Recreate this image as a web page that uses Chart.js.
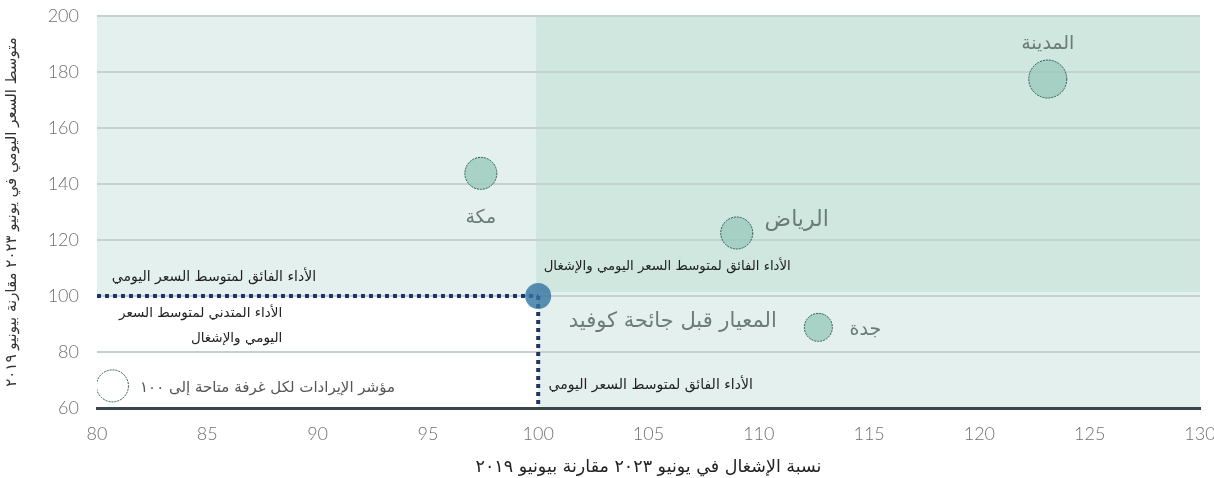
<!DOCTYPE html>
<html lang="ar">
<head>
<meta charset="utf-8">
<script src="https://cdn.jsdelivr.net/npm/chart.js@4.4.1/dist/chart.umd.min.js"></script>
<style>
  html, body { margin: 0; padding: 0; background: #fff; }
  #wrap { width: 1214px; height: 478px; position: relative; }
</style>
</head>
<body>
<div id="wrap"><canvas id="chart"></canvas></div>
<script>
// occupancy (x) and ADR (y), June 2023 indexed to June 2019 = 100
var cities = ['المدينة', 'مكة', 'الرياض', 'جدة'];
var occupancy = [123.1, 97.4, 109.0, 112.7];
var adr = [177.5, 143.8, 122.5, 88.8];
var bubbleSize = [19, 16, 16, 14];

var benchmarkX = 100;
var benchmarkY = 100;
var legendX = 80.7;
var legendY = 67.9;

var xMin = 80, xMax = 130, xStep = 5;
var yMin = 60, yMax = 200, yStep = 20;

var xTitle = 'نسبة الإشغال في يونيو ٢٠٢٣ مقارنة بيونيو ٢٠١٩';
var yTitle = 'متوسط السعر اليومي في يونيو ٢٠٢٣ مقارنة بيونيو ٢٠١٩';

var arabicFont = '"DejaVu Sans", sans-serif';
var numFont = 'Lato, "Open Sans", sans-serif';

// label offsets for each city bubble (px)
var cityLabelPos = [
  { dx: 0, dy: -35, size: 19 },
  { dx: 0, dy: 45, size: 19 },
  { dx: 60, dy: -13, size: 22 },
  { dx: 47, dy: 3, size: 19 }
];

// quadrant notes, anchored in data units
var notes = [
  { text: 'الأداء الفائق لمتوسط السعر اليومي', x: 85.3, y: 106.8, align: 'center', size: 14, color: '#222' },
  { text: 'الأداء المتدني لمتوسط السعر', x: 88.4, y: 93.9, align: 'right', size: 13.5, color: '#222' },
  { text: 'اليومي والإشغال', x: 88.4, y: 85.0, align: 'right', size: 13.5, color: '#222' },
  { text: 'الأداء الفائق لمتوسط السعر اليومي والإشغال', x: 105.85, y: 110.4, align: 'center', size: 13.3, color: '#222' },
  { text: 'الأداء الفائق لمتوسط السعر اليومي', x: 105.1, y: 68.2, align: 'center', size: 14, color: '#222' },
  { text: 'المعيار قبل جائحة كوفيد', x: 106.1, y: 90.7, align: 'center', size: 21, color: '#6b7c78' },
  { text: 'مؤشر الإيرادات لكل غرفة متاحة إلى ١٠٠', x: 81.95, y: 67.1, align: 'left', size: 15, color: '#555' }
];

var cityPoints = [];
for (var i = 0; i < cities.length; i++) {
  cityPoints.push({ x: occupancy[i], y: adr[i], r: bubbleSize[i] });
}

// shaded quadrants behind the grid
var quadrants = {
  id: 'quadrants',
  beforeDraw: function (chart) {
    var c = chart.ctx, a = chart.chartArea;
    var xs = chart.scales.x, ys = chart.scales.y;
    var px = xs.getPixelForValue(benchmarkX);
    var py = ys.getPixelForValue(benchmarkY);
    c.save();
    c.fillStyle = '#e4f0ed';
    c.fillRect(a.left, a.top, a.right - a.left, a.bottom - a.top);
    c.fillStyle = '#ffffff';
    c.fillRect(a.left, py, px - a.left, a.bottom - py);
    c.fillStyle = '#d0e7e0';
    c.fillRect(px - 2, a.top, a.right - px + 2, py - 4 - a.top);
    c.restore();
  }
};

// fine dashed outline on the bubbles
var dashedBubbles = {
  id: 'dashedBubbles',
  beforeDatasetDraw: function (chart, args) {
    chart.ctx.save();
    if (chart.data.datasets[args.index].type !== 'line') {
      chart.ctx.setLineDash([2, 1]);
    }
  },
  afterDatasetDraw: function (chart) {
    chart.ctx.restore();
  }
};

var textLabels = {
  id: 'textLabels',
  afterDatasetsDraw: function (chart) {
    var c = chart.ctx;
    var xs = chart.scales.x, ys = chart.scales.y;
    var meta = chart.getDatasetMeta(0);
    c.save();
    c.textBaseline = 'middle';
    c.direction = 'rtl';
    c.fillStyle = '#6b7c78';
    c.textAlign = 'center';
    meta.data.forEach(function (pt, i) {
      var p = cityLabelPos[i];
      c.font = p.size + 'px ' + arabicFont;
      c.fillText(cities[i], pt.x + p.dx, pt.y + p.dy);
    });
    notes.forEach(function (n) {
      c.font = n.size + 'px ' + arabicFont;
      c.fillStyle = n.color;
      c.textAlign = n.align;
      c.fillText(n.text, xs.getPixelForValue(n.x), ys.getPixelForValue(n.y));
    });
    c.restore();
  }
};

new Chart(document.getElementById('chart'), {
  type: 'bubble',
  data: {
    datasets: [
      {
        label: 'cities',
        data: cityPoints,
        backgroundColor: 'rgba(156,202,189,0.82)',
        borderColor: '#2d5b4f',
        borderWidth: 1,
        order: 1
      },
      {
        label: 'benchmark',
        data: [{ x: benchmarkX, y: benchmarkY, r: 13 }],
        backgroundColor: 'rgba(50,115,160,0.8)',
        borderColor: 'rgba(50,115,160,0.8)',
        borderWidth: 0,
        order: 0
      },
      {
        label: 'size key',
        data: [{ x: legendX, y: legendY, r: 16 }],
        backgroundColor: '#ffffff',
        borderColor: '#2d5b4f',
        borderWidth: 1,
        order: 3
      },
      {
        type: 'line',
        label: 'adr line',
        data: [{ x: xMin, y: benchmarkY }, { x: benchmarkX, y: benchmarkY }],
        borderColor: '#1f3468',
        borderWidth: 4,
        borderDash: [4, 4],
        pointRadius: 0,
        order: 2
      },
      {
        type: 'line',
        label: 'occ line',
        data: [{ x: benchmarkX, y: benchmarkY }, { x: benchmarkX, y: yMin }],
        borderColor: '#1f3468',
        borderWidth: 4,
        borderDash: [4, 4],
        pointRadius: 0,
        order: 2
      }
    ]
  },
  options: {
    responsive: true,
    maintainAspectRatio: false,
    animation: false,
    layout: { autoPadding: false, padding: { top: 16, right: 14, left: 0, bottom: 0 } },
    plugins: {
      legend: { display: false },
      tooltip: { enabled: false }
    },
    scales: {
      x: {
        type: 'linear',
        min: xMin,
        max: xMax,
        ticks: {
          stepSize: xStep,
          color: '#707070',
          padding: 15,
          font: { family: numFont, size: 18, weight: '300' }
        },
        grid: { display: false, drawTicks: false },
        border: { display: true, color: '#37474a', width: 3 },
        title: {
          display: true,
          text: xTitle,
          color: '#222',
          padding: { top: 4, bottom: 0 },
          font: { family: arabicFont, size: 17.5 }
        },
        afterFit: function (s) { s.height = 70; s.paddingLeft = 0; s.paddingRight = 0; }
      },
      y: {
        type: 'linear',
        min: yMin,
        max: yMax,
        ticks: {
          stepSize: yStep,
          color: '#707070',
          padding: 18,
          font: { family: numFont, size: 18, weight: '300' }
        },
        grid: { color: '#c3d2ce', lineWidth: 2, drawTicks: false },
        border: { display: false },
        title: {
          display: true,
          text: yTitle,
          color: '#333',
          padding: { top: 3, bottom: 0 },
          font: { family: arabicFont, size: 15 }
        },
        afterFit: function (s) { s.width = 97; s.paddingTop = 0; s.paddingBottom = 0; }
      }
    }
  },
  plugins: [quadrants, dashedBubbles, textLabels]
});
</script>
</body>
</html>
